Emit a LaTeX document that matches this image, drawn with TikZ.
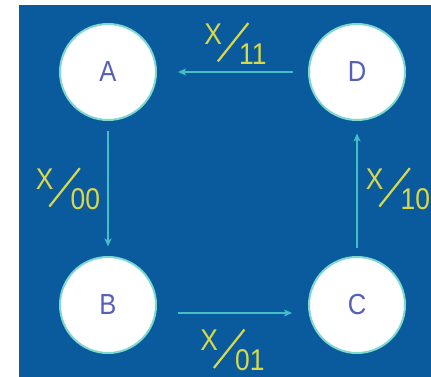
\documentclass[tikz,border=0pt]{standalone}
\usepackage{fontspec}
\usepackage{graphicx}
\setmainfont{Liberation Sans}
\newfontfamily\narrowfont[FakeStretch=0.88]{Liberation Sans}
\usetikzlibrary{arrows.meta,positioning}
\definecolor{panel}{HTML}{0A5A9E}
\definecolor{wire}{HTML}{45BEC8}
\definecolor{glow}{HTML}{7FD8CC}
\definecolor{letter}{HTML}{5560B8}
\definecolor{output}{HTML}{D9D84A}

% input/output label: X over a long slash, output bits below right
\newcommand\io[1]{\raisebox{20pt}{X}\kern-5pt%
  \raisebox{2pt}{\rotatebox{51.5}{\rule{49pt}{2.2pt}}}\kern-10pt#1}

\begin{document}
\begin{tikzpicture}[
  x=1pt,y=1pt,
  state/.style={circle,fill=white,draw=glow,line width=2pt,
    minimum size=96pt,inner sep=0pt,text=letter,
    font=\narrowfont\fontsize{29}{29}\selectfont},
  flow/.style={draw=wire,line width=1.8pt,
    -{Stealth[length=8pt,width=7pt,inset=2pt]}},
  io/.style={inner sep=0pt,text=output,
    font=\narrowfont\fontsize{30}{30}\selectfont}
]
\path[use as bounding box] (0,0) rectangle (431,-377);
\fill[panel] (19,-5) rectangle (431,-377);

\node[state] (A) at (108,-72) {A};
\node[state] (B) at (108,-305) {B};
\node[state] (C) at (357,-305) {C};
\node[state] (D) at (357,-72) {D};

\draw[flow,shorten <=10pt,shorten >=9.5pt] (A) -- node[io,left=7pt] {\io{00}} (B);
\draw[flow,shorten <=21pt,shorten >=16pt] ([yshift=-8pt]B.east)
  -- node[io,below=15pt] {\io{01}} ([yshift=-8pt]C.west);
\draw[flow,shorten <=8.5pt,shorten >=12.5pt] (C) -- node[io,right=8pt] {\io{10}} (D);
\draw[flow,shorten <=15pt,shorten >=21pt] (D) -- node[io,above=7pt,xshift=3pt] {\io{11}} (A);
\end{tikzpicture}
\end{document}
